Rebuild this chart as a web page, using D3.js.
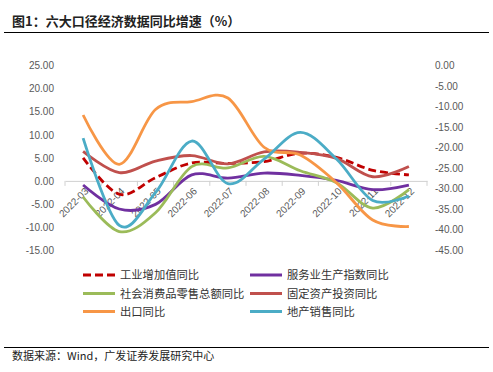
<!DOCTYPE html>
<html><head><meta charset="utf-8">
<script src="https://cdn.jsdelivr.net/npm/d3@7"></script>
<style>
html,body{margin:0;padding:0;background:#fff;}
svg{display:block;}
</style></head>
<body>
<script>
const categories = ['2022-03','2022-04','2022-05','2022-06','2022-07','2022-08','2022-09','2022-10','2022-11','2022-12'];
const industry = [5.0,-2.9,0.7,3.9,3.8,4.2,6.0,5.1,2.3,1.3];
const services = [-0.9,-6.1,-5.1,1.3,0.6,1.7,1.2,0.1,-1.9,-0.9];
const retail = [-3.5,-11.0,-6.9,3.1,2.8,5.3,2.2,-0.4,-5.9,-1.9];
const fai = [6.4,1.8,4.3,5.5,3.7,6.3,6.2,4.9,0.9,3.1];
const exportsYoY = [14.3,3.6,15.5,17.2,18.0,7.3,5.6,-0.4,-8.5,-9.9];
const propertySales = [-17.7,-39.0,-31.0,-18.4,-28.8,-22.8,-16.3,-22.8,-32.9,-31.8];
const leftTicks = [25,20,15,10,5,0,-5,-10,-15];
const rightTicks = [0,-5,-10,-15,-20,-25,-30,-35,-40,-45];

const series = [
  {name:'工业增加值同比', values:industry, color:'#C00000', dash:'8,4', axis:'L'},
  {name:'服务业生产指数同比', values:services, color:'#7030A0', dash:null, axis:'L'},
  {name:'社会消费品零售总额同比', values:retail, color:'#9BBB59', dash:null, axis:'L'},
  {name:'固定资产投资同比', values:fai, color:'#C0504D', dash:null, axis:'L'},
  {name:'出口同比', values:exportsYoY, color:'#F79646', dash:null, axis:'L'},
  {name:'地产销售同比', values:propertySales, color:'#4BACC6', dash:null, axis:'R'}
];

const W = 493, H = 372;
const svg = d3.select('body').append('svg').attr('width',W).attr('height',H);
svg.append('rect').attr('width',W).attr('height',H).attr('fill','#fff');

const cjk = '"Noto Sans CJK SC","Noto Sans",sans-serif';
const latin = '"Liberation Sans",Arial,sans-serif';
const fmt = d => d3.format('.2f')(d).replace('\u2212','-');

// Title
svg.append('text').attr('x',12).attr('y',26)
  .attr('font-family',cjk).attr('font-size',13).attr('font-weight','bold').attr('fill','#222')
  .text('图1：六大口径经济数据同比增速（%）');
svg.append('line').attr('x1',4).attr('x2',489).attr('y1',32.5).attr('y2',32.5)
  .attr('stroke','#000').attr('stroke-width',1.2);

// Scales
const x = d3.scaleBand().domain(categories).range([65,427]).padding(0);
const cx = c => x(c) + x.bandwidth()/2;
const yL = d3.scaleLinear().domain([-15,25]).range([250,65.7]);
const yR = d3.scaleLinear().domain([-45,0]).range([250,65.7]);

// Left axis
const gL = svg.append('g').attr('transform','translate(54,0)')
  .call(d3.axisLeft(yL).tickValues(leftTicks).tickSize(0).tickPadding(0).tickFormat(fmt));
gL.select('.domain').remove();
gL.selectAll('text').attr('font-family',latin).attr('font-size',10).attr('fill','#595959');

// Right axis
const gR = svg.append('g').attr('transform','translate(435,0)')
  .call(d3.axisRight(yR).tickValues(rightTicks).tickSize(0).tickPadding(0).tickFormat(fmt));
gR.select('.domain').remove();
gR.selectAll('text').attr('font-family',latin).attr('font-size',10).attr('fill','#595959');

// X axis at zero line
const y0 = yL(0);
const gX = svg.append('g').attr('transform',`translate(0,${y0})`)
  .call(d3.axisBottom(x).tickSize(0).tickPadding(0));
gX.select('.domain').attr('stroke','#d0d0d0').attr('stroke-width',1);
gX.selectAll('text')
  .attr('font-family',latin).attr('font-size',10).attr('fill','#595959')
  .attr('text-anchor','end').attr('dy',null)
  .attr('transform','translate(6,11) rotate(-45)');
// category boundary ticks
const bounds = categories.map(c => x(c)).concat([x(categories[categories.length-1]) + x.bandwidth()]);
svg.append('g').selectAll('line').data(bounds).join('line')
  .attr('x1',d=>d).attr('x2',d=>d).attr('y1',y0).attr('y2',y0+5)
  .attr('stroke','#d0d0d0').attr('stroke-width',1);

// Lines
const plot = svg.append('g');
series.forEach(s => {
  const yS = s.axis === 'L' ? yL : yR;
  const line = d3.line().x((d,i)=>cx(categories[i])).y(d=>yS(d)).curve(d3.curveCardinal.tension(0));
  plot.append('path').datum(s.values).attr('d',line)
    .attr('fill','none').attr('stroke',s.color).attr('stroke-width',2.8)
    .attr('stroke-dasharray',s.dash).attr('stroke-linejoin','round');
});

// Legend
const colX = [83,250], rowY = [275,293.5,311.5];
const lg = svg.append('g');
series.forEach((s,i) => {
  const lx = colX[i%2], ly = rowY[Math.floor(i/2)];
  lg.append('line').attr('x1',lx).attr('x2',lx+32).attr('y1',ly).attr('y2',ly)
    .attr('stroke',s.color).attr('stroke-width',3).attr('stroke-dasharray',s.dash);
  lg.append('text').attr('x',lx+37).attr('y',ly+4)
    .attr('font-family',cjk).attr('font-size',11.3).attr('fill','#333').text(s.name);
});

// Footer
svg.append('line').attr('x1',4).attr('x2',489).attr('y1',347.5).attr('y2',347.5)
  .attr('stroke','#000').attr('stroke-width',1);
svg.append('text').attr('x',12).attr('y',360)
  .attr('font-family',cjk).attr('font-size',11).attr('fill','#222')
  .text('数据来源：Wind，广发证券发展研究中心');
</script>
</body></html>
